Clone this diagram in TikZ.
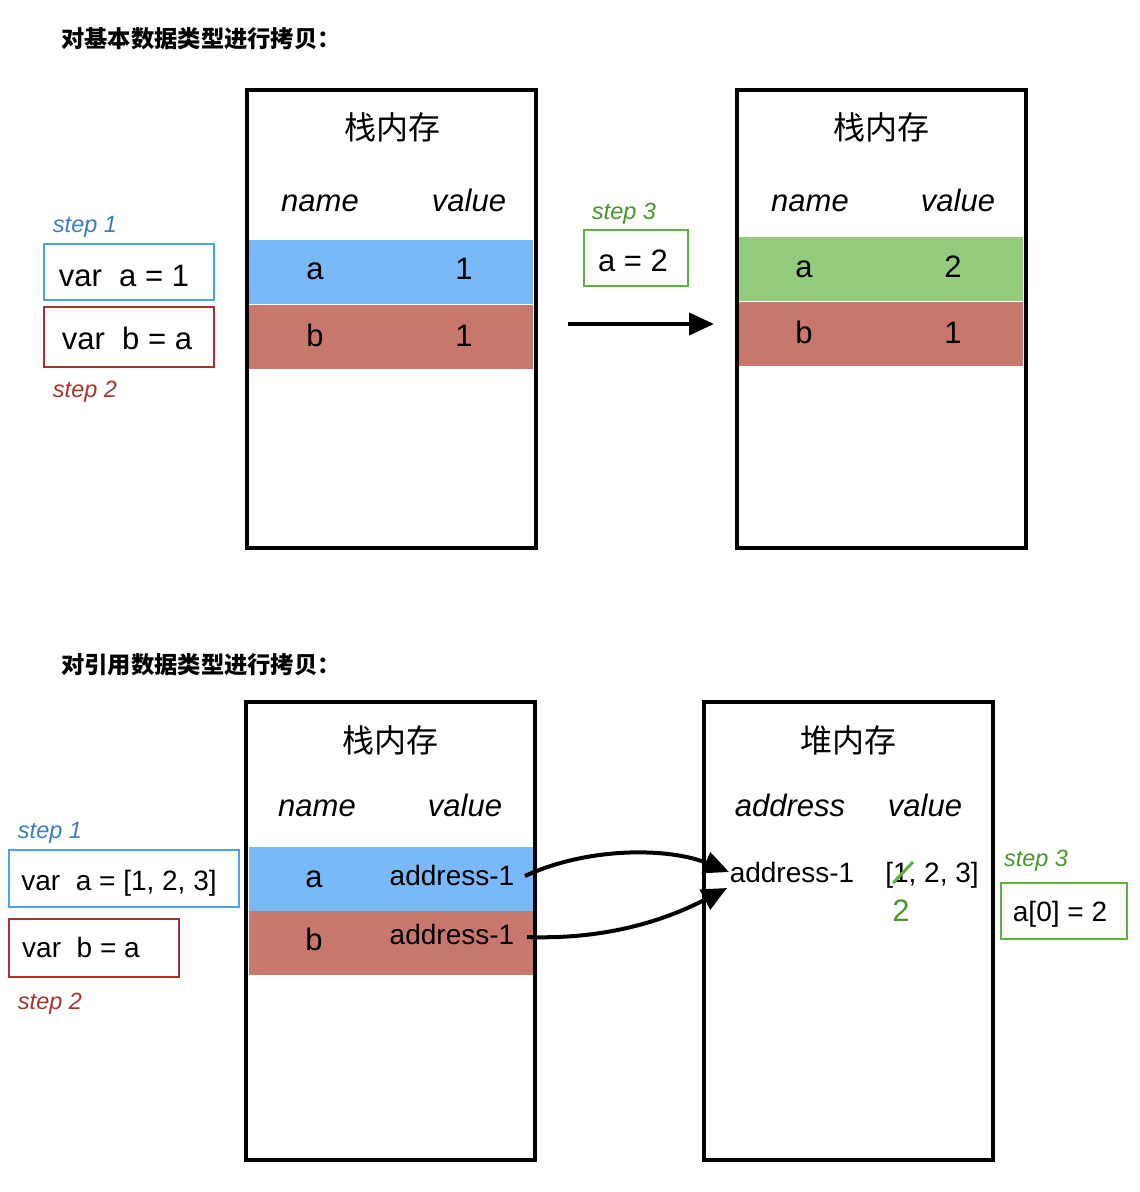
\documentclass[tikz,border=0pt]{standalone}
\usepackage{fontspec}
\setmainfont{Liberation Sans}
\newfontfamily\cjk{Noto Sans CJK SC}
\usetikzlibrary{arrows.meta}
\definecolor{rowblue}{HTML}{79B9F9}
\definecolor{rowred}{HTML}{C7776B}
\definecolor{rowgreen}{HTML}{93CB7D}
\definecolor{bdblue}{HTML}{4DA2F0}
\definecolor{bdred}{HTML}{A7322A}
\definecolor{bdgreen}{HTML}{5DB340}
\definecolor{txtblue}{HTML}{3A7DC0}
\definecolor{txtred}{HTML}{A6352A}
\definecolor{txtgreen}{HTML}{4A962C}
\begin{document}
\begin{tikzpicture}[x=1pt,y=-1pt,
  frame/.style={draw=black,line width=4pt,inner sep=0pt,minimum width=289pt,minimum height=458pt},
  row/.style={inner sep=0pt,minimum width=284pt,minimum height=64pt},
  title/.style={anchor=base,inner sep=0pt,font=\cjk\fontsize{23.3}{27}\selectfont\bfseries},
  mem/.style={anchor=base,inner sep=0pt,font=\cjk\fontsize{32}{38}\selectfont},
  hdr/.style={anchor=base,inner sep=0pt,font=\fontsize{31}{37}\selectfont\itshape},
  big/.style={anchor=base,inner sep=0pt,font=\fontsize{31}{37}\selectfont},
  mid/.style={anchor=base,inner sep=0pt,font=\fontsize{28}{33}\selectfont},
  steplbl/.style={anchor=base,inner sep=0pt,font=\fontsize{23.5}{28}\selectfont\itshape},
  codebox/.style={draw,line width=2pt,inner sep=0pt},
  arr/.style={line width=4pt,-{Triangle[length=25pt,width=22pt]}}
]
\useasboundingbox (0,0) rectangle (1140,1192);

% ---------- top section ----------
\node[title] (t1) at (201,47) {对基本数据类型进行拷贝：};

% left stack
\node[row,fill=rowblue] (r1a) at (391,272) {};
\node[row,fill=rowred]  (r1b) at (391,336.5) {};
\node[frame] (s1) at (391.5,319) {};
\node[mem] (s1t) at (392,139) {栈内存};
\node[hdr] (s1n) at (320,211) {name};
\node[hdr] (s1v) at (469,211) {value};
\node[big] (s1a) at (315,279) {a};
\node[big] (s1a1) at (464,279) {1};
\node[big] (s1b) at (315,346) {b};
\node[big] (s1b1) at (464,346) {1};

% right stack
\node[row,fill=rowgreen] (r2a) at (881,269) {};
\node[row,fill=rowred]   (r2b) at (881,333.5) {};
\node[frame] (s2) at (881.5,319) {};
\node[mem] (s2t) at (881,139) {栈内存};
\node[hdr] (s2n) at (810,211) {name};
\node[hdr] (s2v) at (958,211) {value};
\node[big] (s2a) at (804,277) {a};
\node[big] (s2a1) at (953,277) {2};
\node[big] (s2b) at (804,343) {b};
\node[big] (s2b1) at (953,343) {1};

% steps
\node[steplbl,txtblue] (st1) at (85,232) {step 1};
\node[codebox,draw=bdblue,minimum width=170pt,minimum height=56pt] (c1) at (129,272) {};
\node[big] (c1t) at (124,286) {var\ \ a = 1};
\node[codebox,draw=bdred,minimum width=170pt,minimum height=60pt] (c2) at (129,337) {};
\node[big] (c2t) at (127,349) {var\ \ b = a};
\node[steplbl,txtred] (st2) at (85,397) {step 2};

\node[steplbl,txtgreen] (st3) at (624,219) {step 3};
\node[codebox,draw=bdgreen,minimum width=104pt,minimum height=56pt] (c3) at (636,258) {};
\node[big] (c3t) at (633,271) {a = 2};

\coordinate (p1) at (568,324);
\coordinate (p2) at (714,324);
\draw[arr] (p1) -- (p2);

% ---------- bottom section ----------
\node[title] (t2) at (201,673) {对引用数据类型进行拷贝：};

% stack
\node[row,fill=rowblue] (r3a) at (390.5,879) {};
\node[row,fill=rowred]  (r3b) at (390.5,943) {};
\node[frame] (s3) at (390.5,931) {};
\node[mem] (s3t) at (390,752) {栈内存};
\node[hdr] (s3n) at (317,816) {name};
\node[hdr] (s3v) at (465,816) {value};
\node[big] (s3a) at (314,887) {a};
\node[mid] (s3a1) at (452,885) {address-1};
\node[big] (s3b) at (314,950) {b};
\node[mid] (s3b1) at (452,944) {address-1};

% heap
\node[frame] (h) at (848.5,931) {};
\node[mem] (ht) at (848,752) {堆内存};
\node[hdr] (hn) at (790,816) {address};
\node[hdr] (hv) at (925,816) {value};
\node[mid] (ha) at (792,882) {address-1};
\node[mid] (hval) at (932,882) {[1, 2, 3]};
\node[big,txtgreen] (h2) at (901,921) {2};
\coordinate (x1) at (893,883);
\coordinate (x2) at (913,862);
\draw[line width=3pt,color=bdgreen] (x1) -- (x2);

% steps
\node[steplbl,txtblue] (st1b) at (50,838) {step 1};
\node[codebox,draw=bdblue,minimum width=230pt,minimum height=57pt] (c4) at (124,878.5) {};
\node[mid] (c4t) at (119,890) {var\ \ a = [1, 2, 3]};
\node[codebox,draw=bdred,minimum width=170pt,minimum height=58pt] (c5) at (94,948) {};
\node[mid] (c5t) at (81,957) {var\ \ b = a};
\node[steplbl,txtred] (st2b) at (50,1009) {step 2};

\node[steplbl,txtgreen] (st3b) at (1036,866) {step 3};
\node[codebox,draw=bdgreen,minimum width=126pt,minimum height=56pt] (c6) at (1064,911) {};
\node[mid] (c6t) at (1060,921) {a[0] = 2};

% arrows
\coordinate (a1s) at (525,876);
\coordinate (a1e) at (729,872);
\coordinate (a2s) at (527,937);
\coordinate (a2e) at (727,888);
\draw[arr] (a1s) .. controls (590,846) and (670,848) .. (a1e);
\draw[arr] (a2s) .. controls (610,940) and (670,918) .. (a2e);
\end{tikzpicture}
\end{document}
